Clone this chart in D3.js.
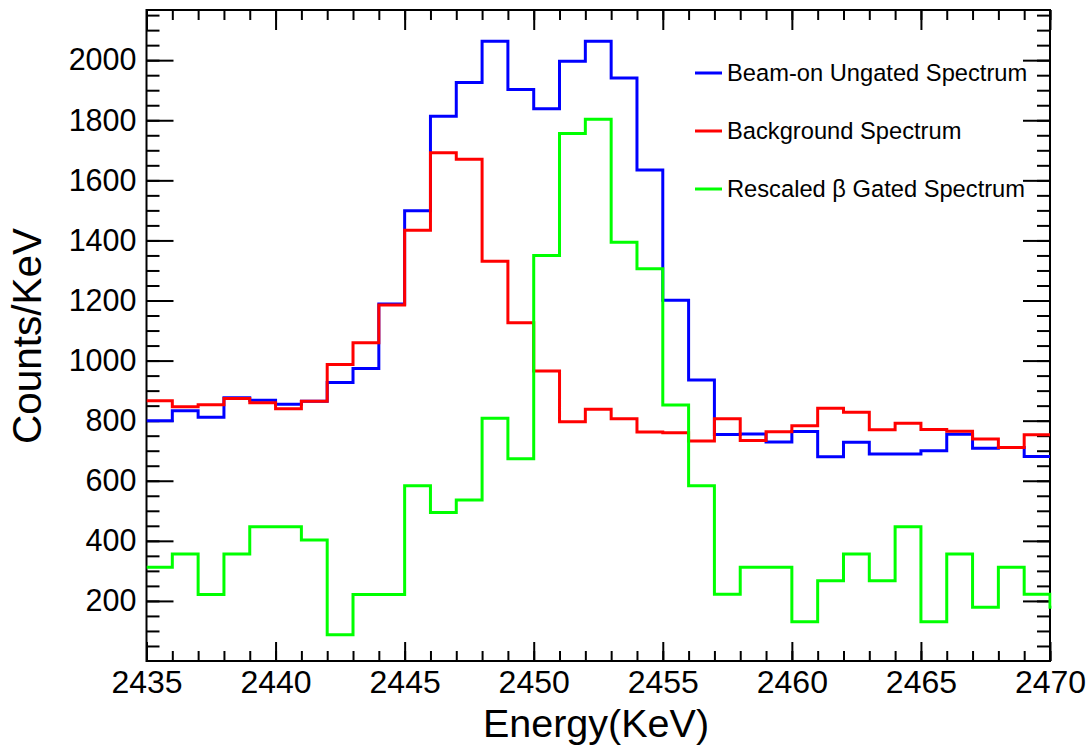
<!DOCTYPE html>
<html>
<head>
<meta charset="utf-8">
<script src="https://cdn.jsdelivr.net/npm/d3@7"></script>
<style>
  body { margin: 0; background: #fff; }
  svg text { font-family: "Liberation Sans", Arial, Helvetica, sans-serif; fill: #000; }
</style>
</head>
<body>
<svg id="chart" width="1091" height="749"></svg>
<script>
// Lower edges of the 1 keV energy bins
const binLow = [2435, 2436, 2437, 2438, 2439, 2440, 2441, 2442, 2443, 2444,
                2445, 2446, 2447, 2448, 2449, 2450, 2451, 2452, 2453, 2454,
                2455, 2456, 2457, 2458, 2459, 2460, 2461, 2462, 2463, 2464,
                2465, 2466, 2467, 2468, 2469, 2470];

// Counts per keV, one value per bin
const beamOnUngated = [800, 833, 811, 876, 868, 855, 865, 927, 974, 1188,
                       1499, 1813, 1926, 2063, 1902, 1838, 1996, 2063, 1941, 1634,
                       1201, 935, 754, 756, 729, 764, 680, 728, 689, 689,
                       700, 755, 708, 711, 681];
const background = [866, 846, 853, 874, 860, 840, 865, 987, 1059, 1185,
                    1434, 1692, 1670, 1331, 1126, 965, 796, 838, 806, 762,
                    760, 732, 806, 734, 763, 783, 841, 828, 770, 791,
                    771, 765, 739, 711, 753];
// The gated spectrum has one more bin past the axis end (clipped by the frame)
const betaGatedRescaled = [312, 356, 221, 356, 447, 447, 403, 87, 221, 221,
                           583, 494, 536, 808, 673, 1350, 1756, 1803, 1394, 1306,
                           852, 583, 222, 312, 312, 131, 267, 356, 267, 447,
                           131, 356, 179, 312, 222, 179];

const seriesNames = ["Beam-on Ungated Spectrum", "Background Spectrum", "Rescaled \u03B2 Gated Spectrum"];
const seriesColors = ["#0000ff", "#ff0000", "#00ff00"];

const xTickLabels = [2435, 2440, 2445, 2450, 2455, 2460, 2465, 2470];
const yTickLabels = [200, 400, 600, 800, 1000, 1200, 1400, 1600, 1800, 2000];

const xDomain = [2435, 2470];
const yDomain = [0, 2167];

// Frame geometry
const frame = { left: 146.5, right: 1050, top: 10, bottom: 661 };

const svg = d3.select("#chart");

const x = d3.scaleLinear().domain(xDomain).range([frame.left, frame.right]);
const y = d3.scaleLinear().domain(yDomain).range([frame.bottom, frame.top]);

svg.append("defs").append("clipPath").attr("id", "plotClip")
  .append("rect")
  .attr("x", frame.left).attr("y", frame.top)
  .attr("width", frame.right - frame.left + 1.5)
  .attr("height", frame.bottom - frame.top);

// Histogram outlines
const step = d3.line()
  .x(d => x(d[0]))
  .y(d => y(d[1]))
  .curve(d3.curveStepAfter);

function histPoints(values) {
  const pts = values.map((v, i) => [binLow[i], v]);
  pts.push([binLow[values.length - 1] + 1, values[values.length - 1]]);
  return pts;
}

// Axis ticks, drawn inward on all four sides
const xMinor = d3.range(xDomain[0], xDomain[1] + 1, 1);
const yMinor = d3.range(50, 2151, 50);

function styleAxis(g) {
  g.select(".domain").remove();
  g.selectAll(".tick line").attr("stroke", "#000").attr("stroke-width", 2);
}

// bottom
svg.append("g").attr("transform", `translate(0,${frame.bottom})`)
  .call(d3.axisBottom(x).tickValues(xMinor).tickSizeInner(-10).tickSizeOuter(0).tickFormat(""))
  .call(styleAxis);
const xAxisG = svg.append("g").attr("transform", `translate(0,${frame.bottom})`)
  .call(d3.axisBottom(x).tickValues(xTickLabels).tickSizeInner(-19).tickSizeOuter(0)
    .tickPadding(9).tickFormat(d3.format("d")))
  .call(styleAxis);
xAxisG.selectAll("text").attr("font-size", 32).attr("font-family", null);

// top
svg.append("g").attr("transform", `translate(0,${frame.top})`)
  .call(d3.axisTop(x).tickValues(xMinor).tickSizeInner(-10).tickSizeOuter(0).tickFormat(""))
  .call(styleAxis);
svg.append("g").attr("transform", `translate(0,${frame.top})`)
  .call(d3.axisTop(x).tickValues(xTickLabels).tickSizeInner(-20).tickSizeOuter(0).tickFormat(""))
  .call(styleAxis);

// left
svg.append("g").attr("transform", `translate(${frame.left},0)`)
  .call(d3.axisLeft(y).tickValues(yMinor).tickSizeInner(-13).tickSizeOuter(0).tickFormat(""))
  .call(styleAxis);
const yAxisG = svg.append("g").attr("transform", `translate(${frame.left},0)`)
  .call(d3.axisLeft(y).tickValues(yTickLabels).tickSizeInner(-27).tickSizeOuter(0)
    .tickPadding(10).tickFormat(d3.format("d")))
  .call(styleAxis);
yAxisG.selectAll("text").attr("font-size", 30.5).attr("font-family", null);

// right
svg.append("g").attr("transform", `translate(${frame.right},0)`)
  .call(d3.axisRight(y).tickValues(yMinor).tickSizeInner(-13).tickSizeOuter(0).tickFormat(""))
  .call(styleAxis);
svg.append("g").attr("transform", `translate(${frame.right},0)`)
  .call(d3.axisRight(y).tickValues(yTickLabels).tickSizeInner(-27).tickSizeOuter(0).tickFormat(""))
  .call(styleAxis);

// Frame
svg.append("rect")
  .attr("x", frame.left).attr("y", frame.top)
  .attr("width", frame.right - frame.left)
  .attr("height", frame.bottom - frame.top)
  .attr("fill", "none").attr("stroke", "#000").attr("stroke-width", 2);

// Spectra, drawn over the frame so the clipped edge step stays visible
const plot = svg.append("g").attr("clip-path", "url(#plotClip)");
[beamOnUngated, background, betaGatedRescaled].forEach((vals, i) => {
  plot.append("path")
    .attr("d", step(histPoints(vals)))
    .attr("fill", "none")
    .attr("stroke", seriesColors[i])
    .attr("stroke-width", 3)
    .attr("stroke-linejoin", "miter");
});

// Axis titles
svg.append("text")
  .attr("x", 596).attr("y", 737)
  .attr("text-anchor", "middle")
  .attr("font-size", 39.5)
  .text("Energy(KeV)");

svg.append("text")
  .attr("transform", "translate(41,336) rotate(-90)")
  .attr("text-anchor", "middle")
  .attr("font-size", 40.5)
  .text("Counts/KeV");

// Legend
const legendY = [73, 131, 189];
const legend = svg.append("g");
seriesNames.forEach((name, i) => {
  legend.append("line")
    .attr("x1", 695).attr("x2", 722)
    .attr("y1", legendY[i]).attr("y2", legendY[i])
    .attr("stroke", seriesColors[i]).attr("stroke-width", 3);
  legend.append("text")
    .attr("x", 727).attr("y", legendY[i] + 7.5)
    .attr("font-size", 23.7)
    .text(name);
});
</script>
</body>
</html>
